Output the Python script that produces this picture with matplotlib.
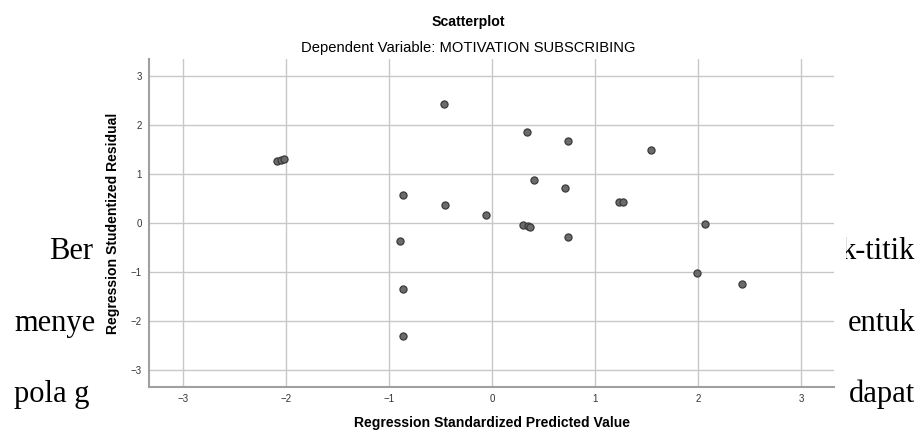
import matplotlib
matplotlib.use("Agg")
import matplotlib.pyplot as plt
from matplotlib.patches import Rectangle

# Data
pred = [-2.09, -2.05, -2.02, -0.466, -0.861, -0.456, 0.34, 0.741, 1.544, 0.408,
        0.709, 1.236, 1.269, -0.061, 0.304, 0.347, 0.372, 0.741, 2.065, 1.994,
        2.43, -0.89, -0.861, -0.861]
resid = [1.27, 1.29, 1.31, 2.43, 0.584, 0.373, 1.857, 1.68, 1.50, 0.884,
         0.727, 0.435, 0.435, 0.16, -0.04, -0.06, -0.08, -0.28, -0.014, -1.014,
         -1.24, -0.36, -1.34, -2.30]
ticks = [-3, -2, -1, 0, 1, 2, 3]
title = "Scatterplot"
subtitle = "Dependent Variable: MOTIVATION SUBSCRIBING"
xlabel = "Regression Standardized Predicted Value"
ylabel = "Regression Studentized Residual"
body_left = ["Ber", "menye", "pola g"]
body_right = ["k-titik", "entuk", "dapat"]

W, H = 921, 430
fig = plt.figure(figsize=(W / 100, H / 100), dpi=100)
fig.patch.set_facecolor("white")

def fx(px):
    return px / W

def fy(py):
    return 1 - py / H

# Body text behind the chart image
baselines = [259, 331, 402]
lefts = [49, 14, 14]
for t, b, l in zip(body_left, baselines, lefts):
    fig.text(fx(l), fy(b), t, family="Liberation Serif", fontsize=22,
             ha="left", va="baseline", color="black", zorder=0)
for t, b in zip(body_right, baselines):
    fig.text(fx(915), fy(b), t, family="Liberation Serif", fontsize=22,
             ha="right", va="baseline", color="black", zorder=0)

# White chart background covering the text
fig.patches.append(Rectangle((fx(96), 0), fx(846) - fx(96), 1,
                             transform=fig.transFigure, facecolor="white",
                             edgecolor="none", zorder=0.5))

ax = fig.add_axes([fx(149), fy(387.3), fx(834) - fx(149), fy(59.3) - fy(387.3)])
ax.set_zorder(1)
ax.patch.set_alpha(0)
ax.set_xlim(-3.33, 3.32)
ax.set_ylim(-3.35, 3.35)
ax.set_xticks(ticks)
ax.set_yticks(ticks)
ax.grid(True, color="#c8c8c8", linewidth=1.0)
ax.set_axisbelow(True)
for s in ["top", "right"]:
    ax.spines[s].set_visible(False)
for s in ["left", "bottom"]:
    ax.spines[s].set_color("#a0a0a0")
    ax.spines[s].set_linewidth(1.5)
ax.tick_params(length=0, labelsize=7, labelcolor="#333333", pad=5)
for lab in ax.get_xticklabels() + ax.get_yticklabels():
    lab.set_family("Liberation Sans")

ax.scatter(pred, resid, s=26, facecolor="#6b6b6b", edgecolor="#3a3a3a",
           linewidth=0.9, zorder=3)

fig.text(fx(468), fy(22), title, family="Liberation Sans", fontweight="bold",
         fontsize=10.2, ha="center", va="center", zorder=2)
fig.text(fx(468), fy(48), subtitle, family="Liberation Sans",
         fontsize=10.6, ha="center", va="center", zorder=2)
fig.text(fx(491.5), fy(423), xlabel, family="Liberation Sans", fontweight="bold",
         fontsize=10.1, ha="center", va="center", zorder=2)
fig.text(fx(113), fy(223), ylabel, family="Liberation Sans", fontweight="bold",
         fontsize=10.1, ha="center", va="center", rotation=90, zorder=2)

fig.savefig("out.png", dpi=100, facecolor="white")
